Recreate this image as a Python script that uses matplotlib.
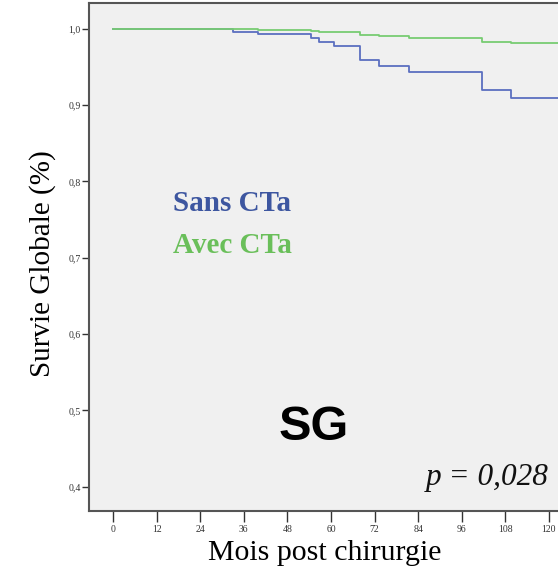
import matplotlib
matplotlib.use('Agg')
import matplotlib.pyplot as plt

# Kaplan-Meier steps (months, survival)
sans_t = [0, 33, 40, 54.5, 56.7, 60.9, 68, 73.3, 81.5, 101.6, 109.7, 123]
sans_s = [1.0, 0.9965, 0.993, 0.9886, 0.983, 0.9776, 0.9588, 0.951, 0.943, 0.920, 0.909, 0.909]

avec_t = [0, 40, 54.5, 56.7, 60.9, 68, 73.3, 81.5, 101.6, 109.7, 123]
avec_s = [1.0, 0.9987, 0.9978, 0.9965, 0.9957, 0.9925, 0.9904, 0.9886, 0.9833, 0.981, 0.981]

xticks = [0, 12, 24, 36, 48, 60, 72, 84, 96, 108, 120]
yticks = [0.4, 0.5, 0.6, 0.7, 0.8, 0.9, 1.0]

blue_line = '#5b6fc0'
green_line = '#78cc72'
blue_txt = '#3d56a0'
green_txt = '#6abf5a'

fig = plt.figure(figsize=(5.58, 5.69), dpi=100)
ax = fig.add_axes([0.1595, 0.102, 0.8405, 0.8927])
ax.set_facecolor('#f0f0f0')

ax.step(sans_t, sans_s, where='post', color=blue_line, lw=1.3)
ax.step(avec_t, avec_s, where='post', color=green_line, lw=1.3)

ax.set_xlim(-6.6, 122.5)
ax.set_ylim(0.368, 1.034)

ax.spines['right'].set_visible(False)
for s in ['left', 'top', 'bottom']:
    ax.spines[s].set_color('#555555')
    ax.spines[s].set_linewidth(1.5)

ax.set_xticks(xticks)
ax.set_xticklabels([str(v) for v in xticks], fontfamily='Liberation Serif', fontsize=7, color='#333333')
ax.set_yticks(yticks)
ax.set_yticklabels([f'{v:.1f}'.replace('.', ',') for v in yticks],
                   fontfamily='Liberation Serif', fontsize=7, color='#333333')
ax.tick_params(axis='x', direction='out', length=8, width=1, color='#333333', pad=2)
ax.tick_params(axis='y', direction='out', length=5, width=1, color='#333333', pad=1)

ax.set_xlabel('Mois post chirurgie', fontfamily='Liberation Serif', fontsize=21.5)
ax.xaxis.set_label_coords(0.503, -0.057)
ax.set_ylabel('Survie Globale (%)', fontfamily='Liberation Serif', fontsize=21)
ax.yaxis.set_label_coords(-0.070, 0.486)

ax.text(16.5, 0.7715, 'Sans CTa', color=blue_txt, fontfamily='Liberation Serif',
        fontweight='bold', fontsize=21, va='center')
ax.text(16.5, 0.7165, 'Avec CTa', color=green_txt, fontfamily='Liberation Serif',
        fontweight='bold', fontsize=21, va='center')
ax.text(55.3, 0.478, 'SG', fontfamily='Liberation Sans', fontweight='bold',
        fontsize=35, ha='center', va='center', color='black')
ax.text(86, 0.412, 'p = 0,028', fontfamily='Liberation Serif', style='italic',
        fontsize=22.5, va='center', color='#111111')

fig.savefig('out.png', dpi=100)
